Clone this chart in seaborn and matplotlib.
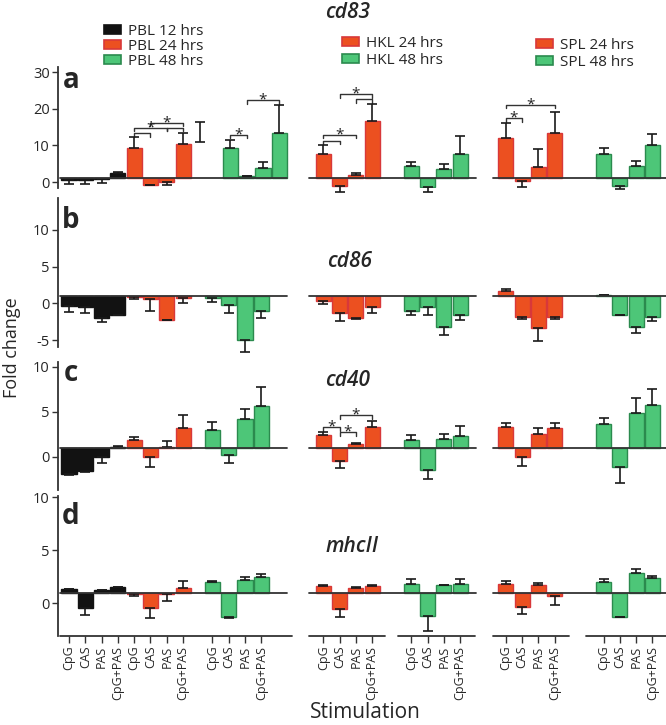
import matplotlib
matplotlib.use("Agg")
import numpy as np
import pandas as pd
import matplotlib.pyplot as plt
from matplotlib.patches import Patch
import seaborn as sns

# categories
stimuli = ["CpG", "CAS", "PAS", "CpG+PAS"]
series = ["PBL 12 hrs", "PBL 24 hrs", "PBL 48 hrs",
          "HKL 24 hrs", "HKL 48 hrs", "SPL 24 hrs", "SPL 48 hrs"]
genes = ["cd83", "cd86", "cd40", "mhcII"]

# fold change, one row per series (order as above), columns = stimuli
cd83_fold = [[0.6, 0.5, 0.8, 2.6], [9.2, -0.8, 0.1, 10.5], [9.4, 1.6, 3.9, 13.4],
             [7.6, -1.0, 2.0, 16.7], [4.3, -1.4, 3.6, 7.7],
             [12.0, 0.2, 4.1, 13.5], [7.7, -1.0, 4.4, 10.2]]
cd86_fold = [[-0.3, -0.45, -2.0, -1.55], [0.85, 0.55, -2.25, 0.8], [0.7, -0.2, -4.95, -1.0],
             [0.4, -1.25, -2.0, -0.5], [-1.0, -0.45, -3.25, -1.5],
             [1.75, -1.8, -3.3, -1.85], [1.2, -1.55, -3.15, -1.9]]
cd40_fold = [[-1.95, -1.6, 0.0, 1.1], [1.8, 0.0, 1.05, 3.2], [3.0, 0.2, 4.2, 5.6],
             [2.4, -0.5, 1.4, 3.3], [1.8, -1.5, 2.0, 2.3],
             [3.3, 0.0, 2.5, 3.2], [3.6, -1.1, 4.8, 5.7]]
mhcII_fold = [[1.3, -0.45, 1.25, 1.5], [0.85, -0.45, 0.85, 1.4], [2.0, -1.35, 2.2, 2.5],
              [1.6, -0.55, 1.45, 1.6], [1.8, -1.2, 1.7, 1.85],
              [1.85, -0.35, 1.7, 0.7], [2.0, -1.3, 2.8, 2.4]]

# where each error bar ends
cd83_tip = [[-0.4, -0.4, -0.3, 2.9], [12.4, -0.8, -0.8, 13.5], [11.6, 1.6, 5.5, 20.9],
            [10.0, -2.7, 2.6, 21.3], [5.4, -2.6, 5.0, 12.6],
            [16.1, -1.4, 9.1, 19.1], [9.3, -1.9, 5.8, 13.2]]
cd86_tip = [[-1.1, -1.35, -2.5, -1.6], [0.6, -1.0, -2.3, 0.0], [0.25, -1.25, -6.6, -2.0],
            [-0.05, -2.4, -2.05, -1.3], [-1.55, -1.55, -4.3, -2.25],
            [2.0, -2.1, -5.05, -2.15], [1.2, -1.6, -4.05, -2.4]]
cd40_tip = [[-2.0, -1.65, -0.75, 1.15], [2.15, -1.2, 1.7, 4.6], [3.8, -0.75, 5.3, 7.7],
            [2.7, -1.25, 1.5, 4.0], [2.4, -2.5, 2.5, 3.4],
            [3.7, -1.0, 3.2, 3.7], [4.3, -2.9, 6.5, 7.5]]
mhcII_tip = [[1.35, -1.15, 1.25, 1.55], [0.7, -1.4, 0.2, 2.1], [2.05, -1.4, 2.5, 2.7],
             [1.7, -1.3, 1.55, 1.75], [2.25, -2.65, 1.75, 2.3],
             [2.1, -1.05, 1.9, -0.2], [2.3, -1.35, 3.2, 2.6]]

# loose error bar with no bar under it (cd83, between PBL 24 h and 48 h)
stray_low, stray_high = 11.0, 16.3

# significance brackets: gene, series, left stim, right stim, height, star
brackets = [
    ("cd83", "PBL 24 hrs", 0, 2, 14.8, True), ("cd83", "PBL 24 hrs", 0, 1, 13.4, False),
    ("cd83", "PBL 24 hrs", 1, 3, 16.2, True), ("cd83", "PBL 24 hrs", 2, 3, 14.8, False),
    ("cd83", "PBL 48 hrs", 0, 1, 12.9, True), ("cd83", "PBL 48 hrs", 1, 3, 22.4, True),
    ("cd83", "HKL 24 hrs", 0, 2, 12.9, True), ("cd83", "HKL 24 hrs", 0, 1, 11.3, False),
    ("cd83", "HKL 24 hrs", 1, 3, 24.0, True), ("cd83", "HKL 24 hrs", 2, 3, 22.7, False),
    ("cd83", "SPL 24 hrs", 0, 1, 17.5, True), ("cd83", "SPL 24 hrs", 0, 3, 21.1, True),
    ("cd40", "HKL 24 hrs", 0, 1, 3.3, True), ("cd40", "HKL 24 hrs", 1, 2, 2.7, True),
    ("cd40", "HKL 24 hrs", 1, 3, 4.6, True),
]

fold = {"cd83": cd83_fold, "cd86": cd86_fold, "cd40": cd40_fold, "mhcII": mhcII_fold}
tips = {"cd83": cd83_tip, "cd86": cd86_tip, "cd40": cd40_tip, "mhcII": mhcII_tip}

# layout (bar slots, one unit per bar)
group_start = {"PBL 12 hrs": 0.0, "PBL 24 hrs": 4.0, "PBL 48 hrs": 8.8,
               "HKL 24 hrs": 15.6, "HKL 48 hrs": 21.0, "SPL 24 hrs": 26.8, "SPL 48 hrs": 32.8}
shift = {("cd83", "PBL 48 hrs"): 1.1}
stray_x = 8.05
BASE = 1.0

RED, RED_EDGE = "#EC5020", "#D8383A"
GREEN, GREEN_EDGE = "#4DC678", "#2B8A4E"
fill = {s: GREEN for s in series}
edge = {s: GREEN_EDGE for s in series}
for s in series:
    if "24" in s:
        fill[s], edge[s] = RED, RED_EDGE
fill["PBL 12 hrs"], edge["PBL 12 hrs"] = "#121212", "#121212"

rows = []
for g in genes:
    for i, s in enumerate(series):
        for j, st in enumerate(stimuli):
            x = group_start[s] + shift.get((g, s), 0.0) + j
            rows.append(dict(gene=g, series=s, stim=st, pos=x,
                             fold=fold[g][i][j], tip=tips[g][i][j]))
df = pd.DataFrame(rows)
df["height"] = df["fold"] - BASE

sns.set_style("ticks")
plt.rcParams["font.family"] = ["Open Sans", "DejaVu Sans"]
plt.rcParams["axes.unicode_minus"] = False

W, H = 666, 725
fig = plt.figure(figsize=(W / 100, H / 100), dpi=100)

# (bottom px, top px) of each panel's y axis
panel_px = {"cd83": (188, 67), "cd86": (347, 198), "cd40": (490, 362), "mhcII": (636, 496)}
ylims = {"cd83": (-1.6, 31.4), "cd86": (-5.9, 14.3), "cd40": (-3.7, 10.5), "mhcII": (-3.1, 10.1)}
yticks = {"cd83": [0, 10, 20, 30], "cd86": [-5, 0, 5, 10], "cd40": [0, 5, 10], "mhcII": [0, 5, 10]}
letters = {"cd83": ("a", 80), "cd86": ("b", 221), "cd40": ("c", 373), "mhcII": ("d", 517)}
titles = {"cd83": (348, 12), "cd86": (350, 262), "cd40": (348, 380), "mhcII": (352, 546)}
xlim = (-0.675, 36.63)
left = 58 / W
base_segments = [(-0.55, 13.4), (14.7, 25.0), (26.0, 36.6)]
axis_segments = [(-0.55, 13.7), (14.7, 19.4), (20.2, 24.9), (26.0, 30.7), (31.7, 36.6)]
LINE = "#333333"

for g in genes:
    b_px, t_px = panel_px[g]
    ax = fig.add_axes([left, 1 - b_px / H, 1 - left, (b_px - t_px) / H])
    sub = df[df.gene == g]
    for s in series:
        d = sub[sub.series == s]
        sns.barplot(data=d, x="pos", y="height", native_scale=True, color=fill[s],
                    edgecolor=edge[s], linewidth=1.0, width=0.93, saturation=1,
                    bottom=BASE, errorbar=None, ax=ax, zorder=2)
    # one-sided error bars pointing away from the baseline
    up = np.where(sub.tip > sub.fold, sub.tip - sub.fold, 0)
    dn = np.where(sub.tip < sub.fold, sub.fold - sub.tip, 0)
    eb = ax.errorbar(sub.pos, sub.fold, yerr=[dn, up], fmt="none", ecolor="#1a1a1a",
                     elinewidth=1.2, capsize=3.6, capthick=1.2, zorder=3)
    for art in eb.get_children():
        art.set_clip_on(False)
    if g == "cd83":
        ax.errorbar([stray_x], [stray_low], yerr=[[0], [stray_high - stray_low]],
                    fmt="none", ecolor="#1a1a1a", elinewidth=1.2, capsize=3.6,
                    capthick=1.2)
    for x0, x1 in base_segments:
        ax.plot([x0, x1], [BASE, BASE], color=LINE, lw=1.3, zorder=4, clip_on=False)

    lo, hi = ylims[g]
    drop = 0.03 * (hi - lo)
    for bg, bs, i0, i1, yb, star in brackets:
        if bg != g:
            continue
        off = group_start[bs] + shift.get((g, bs), 0.0)
        xa, xb = off + i0, off + i1
        ax.plot([xa, xa, xb, xb], [yb - drop, yb, yb, yb - drop], color=LINE, lw=1.0,
                clip_on=False)
        if star:
            ax.text((xa + xb) / 2, yb, "*", ha="center", va="center", fontsize=11,
                    color="#222222")

    ax.set_xlim(*xlim)
    ax.set_ylim(lo, hi)
    ax.set_yticks(yticks[g])
    ax.tick_params(axis="y", labelsize=10.5, length=4, width=1, color=LINE, pad=2)
    ax.set_xlabel("")
    ax.set_ylabel("")
    ax.set_facecolor("none")
    for side in ["top", "right", "bottom"]:
        ax.spines[side].set_visible(False)
    ax.spines["left"].set_linewidth(1.3)
    ax.spines["left"].set_color(LINE)

    if g == "mhcII":
        p = sub.sort_values("pos")
        ax.set_xticks(p.pos)
        ax.set_xticklabels(p.stim, rotation=90, fontsize=9)
        ax.tick_params(axis="x", length=5, width=1, color=LINE, pad=2)
        for x0, x1 in axis_segments:
            ax.plot([x0, x1], [lo, lo], color=LINE, lw=1.3, clip_on=False)
    else:
        ax.set_xticks([])

    letter, ly = letters[g]
    fig.text(71 / W, 1 - ly / H, letter, fontsize=20, fontweight="bold", ha="center",
             va="center")
    tx, ty = titles[g]
    fig.text(tx / W, 1 - ty / H, g, fontsize=15, fontstyle="italic", fontweight="semibold",
             ha="center", va="center")

# legends, one per tissue
def add_legend(names, x_px, top_px, spacing):
    handles = [Patch(facecolor=fill[n], edgecolor=edge[n], linewidth=1.2) for n in names]
    fig.legend(handles, names, loc="upper left", bbox_to_anchor=(x_px / W, 1 - top_px / H),
               frameon=False, fontsize=11, handlelength=1.1, handleheight=0.55,
               handletextpad=0.45, labelspacing=spacing, borderpad=0, borderaxespad=0)

add_legend(series[:3], 104, 24, 0.0)
add_legend(series[3:5], 342, 36, 0.15)
add_legend(series[5:], 536, 38, 0.1)

fig.text(12 / W, 1 - 348 / H, "Fold change", rotation=90, fontsize=13, ha="center",
         va="center")
fig.text(365 / W, 1 - 712 / H, "Stimulation", fontsize=15, ha="center", va="center")

fig.savefig("out.png", dpi=100)
